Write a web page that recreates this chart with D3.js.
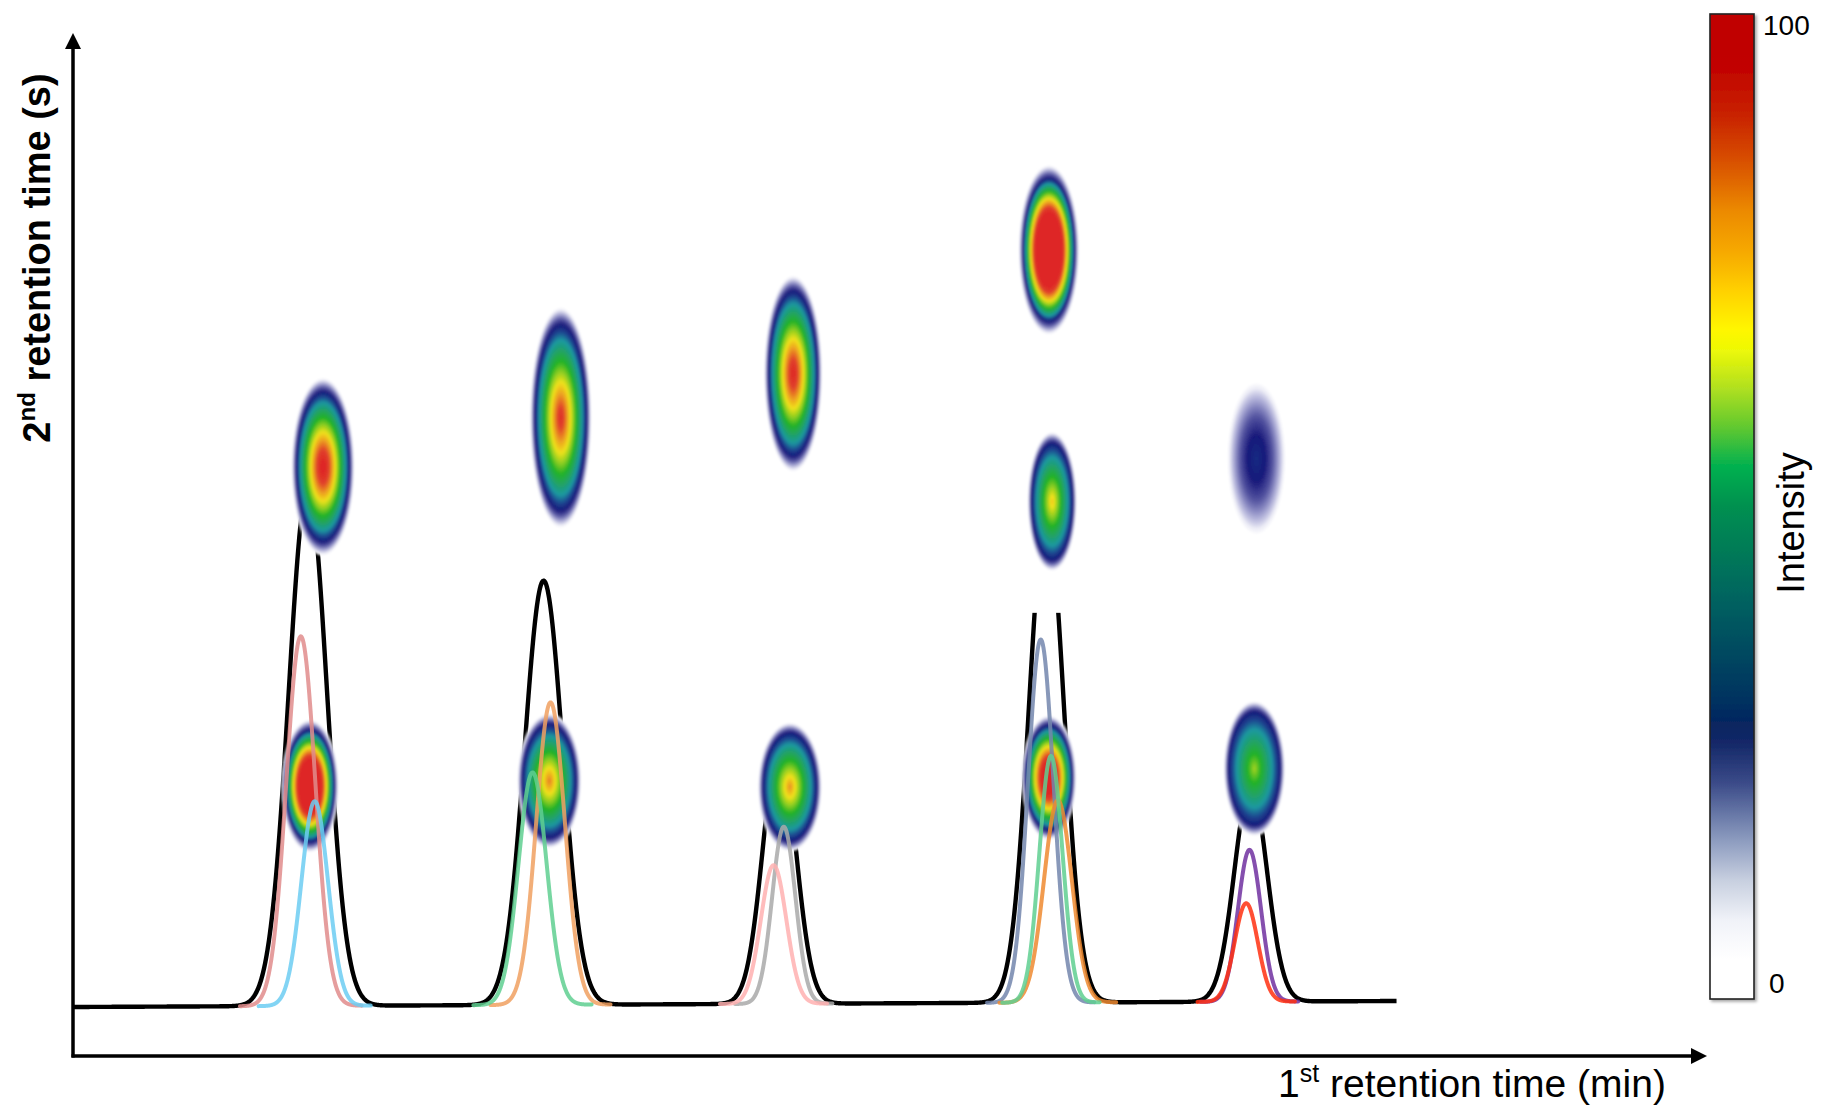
<!DOCTYPE html>
<html>
<head>
<meta charset="utf-8">
<script src="https://cdn.jsdelivr.net/npm/d3@7"></script>
<style>
  html, body { margin: 0; padding: 0; background: #fff; }
  svg { display: block; font-family: Arial, "Liberation Sans", Helvetica, sans-serif; }
</style>
</head>
<body>
<svg id="chart" width="1821" height="1108"></svg>
<script>
// ---------- data ----------
// 1D chromatogram (black trace): peak apex time (min), height (% full scale), width sigma (min)
const envelopeRT     = [5.75, 11.52, 17.29, 23.83, 28.83];
const envelopeHeight = [86.4, 70.7, 43.4, 81.9, 36.1];
const envelopeWidth  = [0.469, 0.465, 0.398, 0.426, 0.398];

// slow baseline drift of the 1D trace
const baselineRT    = [0, 32.4];
const baselineLevel = [0, 1.0];

// co-eluting compounds hidden under each 1D peak
const componentName   = ["A1", "A2", "B1", "B2", "C1", "C2", "D1", "D2", "D3", "E1", "E2"];
const componentRT     = [5.577, 5.917, 11.69, 11.25, 17.40, 17.15, 23.69, 24.11, 23.94, 28.80, 28.72];
const componentHeight = [61.6, 34.1, 50.4, 38.75, 29.5, 23.1, 60.5, 33.7, 41.1, 25.3, 16.4];
const componentWidth  = [0.355, 0.327, 0.350, 0.345, 0.284, 0.313, 0.313, 0.341, 0.284, 0.284, 0.284];

// 2D spots: 1st retention time (min), 2nd retention time (s), half widths, intensity (%)
const spotRT1       = [6.12, 5.80, 11.94, 11.66, 17.63, 17.55, 23.89, 23.97, 23.89, 28.97, 28.92];
const spotRT2       = [5.76, 2.64, 6.24, 2.69, 6.67, 2.63, 7.88, 5.42, 2.72, 5.84, 2.81];
const spotWidth1    = [0.77, 0.70, 0.75, 0.78, 0.71, 0.78, 0.74, 0.60, 0.67, 0.71, 0.75];
const spotWidth2    = [0.87, 0.65, 1.08, 0.66, 0.96, 0.63, 0.83, 0.68, 0.61, 0.74, 0.66];
const spotIntensity = [105, 160, 95, 82, 100, 80, 175, 74, 130, 31, 64];

// colour bar
const intensityTicks = [0, 100];

// ---------- styles ----------
const componentColors = ["#e08c8c", "#6ccdf2", "#f0a060", "#5fcf90", "#a9a9a9", "#ffb0b0",
                         "#7386ad", "#ee8a30", "#5fcf90", "#7030a0", "#ff3010"];
const rampStops  = [0.00, 0.04, 0.08, 0.12, 0.17, 0.22, 0.27, 0.30, 0.35, 0.40, 0.45, 0.50,
                    0.54, 0.58, 0.62, 0.67, 0.72, 0.75, 0.80, 0.85, 0.90, 0.95, 1.00];
const barColors  = ["#ffffff", "#ffffff", "#f0f2f8", "#c8d0e0", "#8090b8", "#3a4a88", "#0a2060",
                    "#003060", "#004860", "#006060", "#007858", "#009050", "#00b050", "#60c830",
                    "#b0e020", "#ffff00", "#ffd000", "#f8b000", "#ec8a00", "#d85000", "#c82000",
                    "#c00000", "#c00000"];
const spotStops  = [0.00, 0.05, 0.12, 0.20, 0.29, 0.34, 0.40, 0.46, 0.55, 0.62, 0.70, 0.78, 0.88, 1.00];
const spotColors = ["#ffffff", "#ececf6", "#a8a8d4", "#5656a2", "#19197a", "#1a4690", "#1a98a0",
                    "#20a070", "#22b228", "#88cc20", "#f0e21e", "#eca020", "#e0402a", "#de2626"];

// ---------- scales ----------
const svg = d3.select("#chart");
const x  = d3.scaleLinear().domain([0, 40]).range([73, 1707]);     // 1st retention time
const y2 = d3.scaleLinear().domain([0, 10]).range([1056, 33]);     // 2nd retention time
const yI = d3.scaleLinear().domain([0, 100]).range([1007, 407]);   // 1D detector signal
const baseline = d3.scaleLinear().domain(baselineRT).range(baselineLevel);
const barRamp  = d3.scaleLinear().domain(rampStops).range(barColors).clamp(true);
const spotRamp = d3.scaleLinear().domain(spotStops).range(spotColors).clamp(true);
const gauss = (t, c, h, s) => h * Math.exp(-0.5 * ((t - c) / s) ** 2);

const line = d3.line().x(d => x(d[0])).y(d => yI(d[1])).curve(d3.curveLinear);
const defs = svg.append("defs");

// ---------- 1D trace ----------
const tEnd = baselineRT[1];
const trace = d3.range(0, tEnd + 1e-9, 0.01).map(t => {
  let v = baseline(t);
  envelopeRT.forEach((c, i) => { v += gauss(t, c, envelopeHeight[i], envelopeWidth[i]); });
  return [t, v];
});
svg.append("path")
  .attr("d", line(trace))
  .attr("fill", "none")
  .attr("stroke", "#000")
  .attr("stroke-width", 4.4)
  .attr("stroke-linejoin", "round");

// ---------- 2D spots ----------
const spots = spotRT1.map((t, i) => ({
  i, cx: x(t), cy: y2(spotRT2[i]),
  rx: x(t + spotWidth1[i]) - x(t),
  ry: y2(spotRT2[i]) - y2(spotRT2[i] + spotWidth2[i]),
  v: spotIntensity[i] / 100
}));

spots.forEach(s => {
  const g = defs.append("radialGradient").attr("id", "spot" + s.i)
    .attr("cx", "50%").attr("cy", "50%").attr("r", "50%");
  const navy = 0.29;
  const faint = s.v < 0.4;
  const edge = faint ? 0.3 : 0.84;   // faint spots fade out over a wider rim
  const n = 40;
  for (let k = 0; k <= n; k++) {
    const r = k / n;
    let v;
    if (r <= edge) v = s.v - (s.v - navy) * (r / edge);
    else v = navy * Math.pow(1 - (r - edge) / (1 - edge), faint ? 0.8 : 1);
    g.append("stop").attr("offset", (r * 100).toFixed(2) + "%")
      .attr("stop-color", spotRamp(Math.min(v, 1)));
  }
});

const soft = defs.append("filter").attr("id", "soft")
  .attr("x", "-10%").attr("y", "-10%").attr("width", "120%").attr("height", "120%");
soft.append("feGaussianBlur").attr("stdDeviation", 0.9);

// white backing for the spot at 23.97 min / 5.42 s, which masks the 1D apex beneath it
const backing = svg.append("g");
[spots[7]].forEach(s => {
  backing.append("rect")
    .attr("x", s.cx - s.rx * 1.4).attr("y", s.cy - s.ry)
    .attr("width", s.rx * 2.8).attr("height", s.ry * 2.6)
    .attr("fill", "#fff");
});

svg.append("g").selectAll("ellipse").data(spots).join("ellipse")
  .attr("cx", d => d.cx).attr("cy", d => d.cy)
  .attr("rx", d => d.rx).attr("ry", d => d.ry)
  .attr("fill", d => `url(#spot${d.i})`)
  .attr("filter", "url(#soft)");

// ---------- component traces ----------
svg.append("g").selectAll("path").data(componentRT).join("path")
  .attr("d", (c, i) => {
    const s = componentWidth[i];
    const pts = d3.range(c - 4.2 * s, c + 4.2 * s, 0.005)
      .map(t => [t, baseline(t) + gauss(t, c, componentHeight[i], s)]);
    return line(pts);
  })
  .attr("fill", "none")
  .attr("stroke", (c, i) => componentColors[i])
  .attr("stroke-opacity", 0.85)
  .attr("stroke-width", 4)
  .attr("stroke-linecap", "round");

// ---------- axes ----------
const axes = svg.append("g").attr("fill", "#000");
axes.append("line").attr("x1", x(0)).attr("y1", y2(0) + 1.5).attr("x2", x(0)).attr("y2", y2(10) + 12)
  .attr("stroke", "#000").attr("stroke-width", 3.5);
axes.append("path")
  .attr("d", `M${x(0)},${y2(10)} L${x(0) - 8},${y2(10) + 16} L${x(0) + 8},${y2(10) + 16} Z`);
axes.append("line").attr("x1", x(0) - 1.5).attr("y1", y2(0)).attr("x2", x(40) - 12).attr("y2", y2(0))
  .attr("stroke", "#000").attr("stroke-width", 3.5);
axes.append("path")
  .attr("d", `M${x(40)},${y2(0)} L${x(40) - 16},${y2(0) - 8} L${x(40) - 16},${y2(0) + 8} Z`);

// axis titles
const xt = svg.append("text").attr("x", 1278).attr("y", 1097)
  .attr("font-size", 39).attr("fill", "#000");
xt.append("tspan").text("1");
xt.append("tspan").attr("font-size", 25).attr("dy", -15).text("st");
xt.append("tspan").attr("dy", 15).text(" retention time (min)");

const yt = svg.append("text").attr("transform", "translate(50,258) rotate(-90)")
  .attr("text-anchor", "middle").attr("font-size", 38).attr("font-weight", "bold").attr("fill", "#000");
yt.append("tspan").text("2");
yt.append("tspan").attr("font-size", 24).attr("dy", -15).text("nd");
yt.append("tspan").attr("dy", 15).text(" retention time (s)");

// ---------- colour bar ----------
const cb = d3.scaleLinear().domain([0, 100]).range([999, 14]);
const cbg = defs.append("linearGradient").attr("id", "bar")
  .attr("x1", 0).attr("y1", 1).attr("x2", 0).attr("y2", 0);
d3.range(0, 1.0001, 0.02).forEach(v => {
  cbg.append("stop").attr("offset", (v * 100).toFixed(1) + "%").attr("stop-color", barRamp(v));
});
const shadow = defs.append("filter").attr("id", "shadow")
  .attr("x", "-20%").attr("y", "-5%").attr("width", "150%").attr("height", "110%");
shadow.append("feDropShadow").attr("dx", 2).attr("dy", 2).attr("stdDeviation", 1.5)
  .attr("flood-color", "#000").attr("flood-opacity", 0.35);

svg.append("rect")
  .attr("x", 1710).attr("y", cb(100)).attr("width", 44).attr("height", cb(0) - cb(100))
  .attr("fill", "url(#bar)").attr("stroke", "#222").attr("stroke-width", 1.6)
  .attr("filter", "url(#shadow)");

svg.append("g").selectAll("text").data(intensityTicks).join("text")
  .attr("x", d => d === 0 ? 1769 : 1763)
  .attr("y", d => d === 0 ? cb(d) - 6 : cb(d) + 21)
  .attr("font-size", 28).attr("fill", "#000")
  .text(d => d);

svg.append("text").attr("transform", "translate(1804,523) rotate(-90)")
  .attr("text-anchor", "middle").attr("font-size", 38).attr("fill", "#000")
  .text("Intensity");
</script>
</body>
</html>
